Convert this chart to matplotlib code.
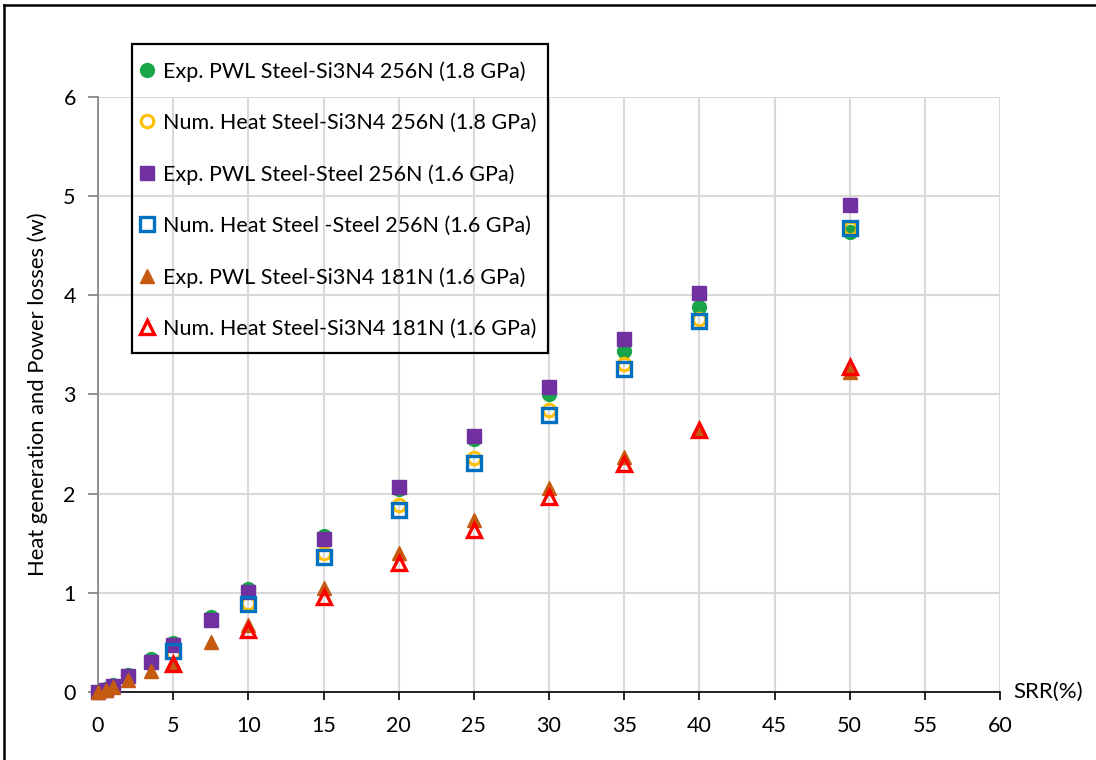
import matplotlib
matplotlib.use("Agg")
import matplotlib.pyplot as plt
from matplotlib.lines import Line2D
from matplotlib.patches import Rectangle

plt.rcParams['font.family'] = ['Lato', 'DejaVu Sans']

# SRR (%) for experimental and numerical runs
srr_exp = [0, 0.5, 1, 2, 3.5, 5, 7.5, 10, 15, 20, 25, 30, 35, 40, 50]
srr_num = [5, 10, 15, 20, 25, 30, 35, 40, 50]

# Heat generation / power losses (W)
exp_si3n4_256 = [0.0, 0.03, 0.07, 0.17, 0.33, 0.49, 0.76, 1.04, 1.57, 2.05, 2.55, 3.00, 3.44, 3.88, 4.64]
num_si3n4_256 = [0.39, 0.90, 1.40, 1.89, 2.36, 2.84, 3.31, 3.76, 4.68]
exp_steel_256 = [0.0, 0.02, 0.06, 0.16, 0.30, 0.47, 0.73, 1.01, 1.54, 2.07, 2.58, 3.08, 3.56, 4.02, 4.91]
num_steel_256 = [0.41, 0.89, 1.36, 1.84, 2.31, 2.79, 3.26, 3.74, 4.68]
exp_si3n4_181 = [0.0, 0.02, 0.05, 0.12, 0.21, 0.30, 0.50, 0.68, 1.05, 1.40, 1.73, 2.06, 2.37, 2.66, 3.23]
num_si3n4_181 = [0.28, 0.625, 0.96, 1.30, 1.63, 1.97, 2.30, 2.64, 3.28]

labels = [
    "Exp. PWL Steel-Si3N4 256N (1.8 GPa)",
    "Num. Heat Steel-Si3N4 256N (1.8 GPa)",
    "Exp. PWL Steel-Steel 256N (1.6 GPa)",
    "Num. Heat Steel -Steel 256N (1.6 GPa)",
    "Exp. PWL Steel-Si3N4 181N (1.6 GPa)",
    "Num. Heat Steel-Si3N4 181N (1.6 GPa)",
]

x_ticks = list(range(0, 61, 5))
y_ticks = list(range(0, 7))

W, H = 1096, 760
fig = plt.figure(figsize=(W / 100, H / 100), dpi=100)
ax = fig.add_axes([98 / W, 68 / H, 902 / W, 595 / H])

common = dict(linestyle='none', clip_on=False)
ax.plot(srr_exp, exp_si3n4_256, marker='o', ms=10, mfc='#1AA648', mec='#1AA648',
        label=labels[0], zorder=3.0, **common)
ax.plot(srr_num, num_si3n4_256, marker='o', ms=9, mfc='none', mec='#FFC000', mew=2.2,
        label=labels[1], zorder=3.1, **common)
ax.plot(srr_exp, exp_steel_256, marker='s', ms=10, mfc='#7030A0', mec='#7030A0',
        label=labels[2], zorder=3.2, **common)
ax.plot(srr_num, num_steel_256, marker='s', ms=9.5, mfc='none', mec='#0070C0', mew=2.4,
        label=labels[3], zorder=3.3, **common)
ax.plot(srr_exp, exp_si3n4_181, marker='^', ms=10, mfc='#C55A11', mec='#C55A11',
        label=labels[4], zorder=3.4, **common)
ax.plot(srr_num, num_si3n4_181, marker='^', ms=9.5, mfc='none', mec='#FF0000', mew=2.4,
        label=labels[5], zorder=3.5, **common)

ax.set_xlim(0, 60)
ax.set_ylim(0, 6)
ax.set_xticks(x_ticks)
ax.set_yticks(y_ticks)
ax.grid(True, color='#D9D9D9', linewidth=1.5)
ax.set_axisbelow(True)

for side in ('top', 'right'):
    ax.spines[side].set_visible(False)
ax.spines['bottom'].set_color('black')
ax.spines['bottom'].set_linewidth(1.2)
ax.spines['left'].set_color('#7F7F7F')
ax.spines['left'].set_linewidth(1.2)

ax.tick_params(axis='x', direction='out', length=6, width=1.2, color='black',
               labelsize=15.5, pad=11, labelcolor='black')
ax.tick_params(axis='y', direction='out', length=7, width=1.2, color='#7F7F7F',
               labelsize=15.5, pad=9, labelcolor='black')

ax.set_ylabel("Heat generation and Power losses (w)", fontsize=15.8, labelpad=11)
ax.text(60.9, 0, "SRR(%)", fontsize=16, va='center', ha='left')

# legend entries without their own frame; the box is drawn separately
leg = ax.legend(loc='upper left', bbox_to_anchor=(137 / W, 1 - 61 / H),
                bbox_transform=fig.transFigure, borderaxespad=0, borderpad=0,
                frameon=False, fontsize=15.5, labelspacing=1.45,
                handlelength=0.9, handletextpad=0.3, numpoints=1)

fig.add_artist(Rectangle((132 / W, 1 - 353 / H), 416 / W, 309 / H,
                         transform=fig.transFigure, fill=False,
                         edgecolor='black', linewidth=1.6, zorder=5))

# outer frame lines (top and left)
fig.add_artist(Line2D([4 / W, 1], [1 - 5 / H, 1 - 5 / H], color='black',
                      linewidth=1.8, transform=fig.transFigure))
fig.add_artist(Line2D([4 / W, 4 / W], [0, 1 - 5 / H], color='black',
                      linewidth=1.8, transform=fig.transFigure))

fig.savefig("out.png", dpi=100)
